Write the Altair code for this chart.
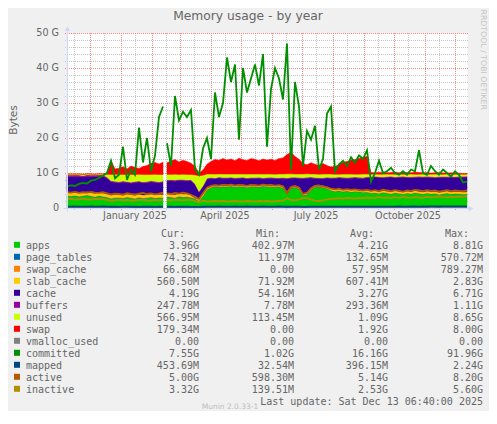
import altair as alt
import pandas as pd

# ---------------------------------------------------------------- data ----
START_DATE = "2024-11-08"          # first sample (left edge of the plot)
STEP = "4D"                        # one sample every 4 days
GAP_DATES = ["2025-02-14"]         # rrd gap (no data)

SERIES = ["apps", "page_tables", "swap_cache", "slab_cache", "cache", "buffers",
          "unused", "swap", "vmalloc_used", "committed", "mapped", "active", "inactive"]
COLORS = ["#00CC00", "#0066B3", "#FF8000", "#FFCC00", "#330099", "#990099",
          "#CCFF00", "#FF0000", "#808080", "#008F00", "#00487D", "#B35A00", "#B38F00"]
STACKED = SERIES[:8]
LINES = SERIES[8:]

# values in G (base 1024)
APPS = [3.4, 3.3, 3.5, 3.2, 3.4, 3.6, 3.3, 3.1, 3.4, 3.2,
        3.0, 2.6, 2.8, 2.9, 2.7, 3.0, 2.8, 2.6, 2.9, 2.7,
        2.8, 3.0, 2.7, 2.9, 2.8, 3.1, 3.0, 2.8, 3.2, 3.0,
        3.1, 2.9, 2.6, 2.0, 3.4, 5.2, 5.8, 6.0, 5.9, 6.1,
        6.0, 6.2, 5.9, 6.1, 6.0, 5.8, 6.1, 6.0, 5.9, 6.2,
        6.0, 6.1, 5.9, 6.0, 5.7, 4.0, 5.6, 5.8, 5.4, 3.6,
        3.8, 5.2, 5.9, 6.0, 5.8, 5.5, 5.0, 4.7, 4.9, 4.6,
        4.8, 4.5, 4.7, 4.6, 4.4, 4.5, 4.2, 4.3, 4.1, 4.4,
        4.2, 4.0, 4.3, 4.1, 3.9, 4.2, 4.0, 4.3, 4.1, 3.9,
        4.2, 4.0, 4.1, 3.8, 4.0, 4.2, 3.9, 4.1, 4.0, 3.9,
        3.96]
PAGE_TABLES = [0.16, 0.17, 0.15, 0.18, 0.16, 0.17, 0.19, 0.16, 0.18, 0.17,
               0.15, 0.14, 0.15, 0.13, 0.14, 0.15, 0.13, 0.14, 0.15, 0.14,
               0.13, 0.14, 0.15, 0.13, 0.14, 0.15, 0.14, 0.13, 0.15, 0.14,
               0.13, 0.14, 0.12, 0.10, 0.13, 0.12, 0.13, 0.12, 0.14, 0.13,
               0.12, 0.13, 0.12, 0.14, 0.13, 0.12, 0.13, 0.12, 0.13, 0.14,
               0.12, 0.13, 0.12, 0.13, 0.12, 0.11, 0.13, 0.12, 0.11, 0.10,
               0.11, 0.12, 0.13, 0.12, 0.13, 0.12, 0.11, 0.10, 0.11, 0.10,
               0.11, 0.10, 0.09, 0.10, 0.11, 0.10, 0.09, 0.10, 0.09, 0.10,
               0.11, 0.10, 0.09, 0.10, 0.09, 0.10, 0.11, 0.10, 0.09, 0.10,
               0.09, 0.10, 0.09, 0.08, 0.09, 0.10, 0.09, 0.08, 0.09, 0.08,
               0.074]
SWAP_CACHE = [0.02, 0.02, 0.01, 0.02, 0.02, 0.01, 0.02, 0.02, 0.01, 0.02,
              0.02, 0.09, 0.06, 0.05, 0.07, 0.06, 0.05, 0.06, 0.07, 0.05,
              0.06, 0.07, 0.08, 0.06, 0.07, 0.06, 0.07, 0.08, 0.06, 0.07,
              0.06, 0.07, 0.05, 0.03, 0.04, 0.05, 0.06, 0.07, 0.06, 0.07,
              0.06, 0.07, 0.06, 0.07, 0.06, 0.05, 0.07, 0.06, 0.05, 0.06,
              0.07, 0.06, 0.05, 0.07, 0.08, 0.10, 0.11, 0.09, 0.07, 0.06,
              0.05, 0.06, 0.05, 0.04, 0.05, 0.04, 0.04, 0.05, 0.06, 0.07,
              0.06, 0.07, 0.08, 0.07, 0.08, 0.09, 0.06, 0.05, 0.06, 0.05,
              0.06, 0.05, 0.06, 0.07, 0.05, 0.06, 0.05, 0.06, 0.07, 0.06,
              0.05, 0.06, 0.07, 0.06, 0.05, 0.06, 0.07, 0.06, 0.07, 0.06,
              0.067]
SLAB_CACHE = [0.95, 0.90, 1.00, 0.92, 0.88, 0.96, 0.90, 0.94, 0.98, 0.92,
              0.90, 0.86, 0.92, 0.88, 0.90, 0.85, 0.91, 0.87, 0.90, 0.86,
              0.88, 0.84, 0.90, 0.86, 0.89, 0.82, 0.80, 0.85, 0.78, 0.82,
              0.80, 0.76, 0.72, 0.60, 0.65, 0.50, 0.46, 0.44, 0.47, 0.45,
              0.46, 0.44, 0.47, 0.43, 0.45, 0.46, 0.44, 0.47, 0.45, 0.43,
              0.46, 0.44, 0.45, 0.47, 0.44, 0.52, 0.46, 0.44, 0.48, 0.55,
              0.56, 0.50, 0.46, 0.45, 0.47, 0.48, 0.50, 0.53, 0.52, 0.55,
              0.54, 0.56, 0.53, 0.55, 0.57, 0.54, 0.56, 0.58, 0.55, 0.57,
              0.55, 0.58, 0.56, 0.54, 0.57, 0.55, 0.58, 0.56, 0.54, 0.57,
              0.55, 0.57, 0.56, 0.58, 0.55, 0.57, 0.54, 0.56, 0.55, 0.57,
              0.56]
CACHE = [4.5, 4.6, 4.4, 4.7, 4.4, 4.3, 4.6, 4.8, 4.5, 4.7,
         4.4, 3.8, 3.4, 3.2, 3.6, 3.2, 3.2, 3.6, 3.4, 3.4,
         3.4, 3.4, 3.5, 3.2, 3.5, 3.6, 3.8, 3.8, 3.7, 3.8,
         3.6, 3.9, 3.2, 1.8, 1.9, 2.4, 2.0, 1.7, 2.0, 1.7,
         1.8, 1.7, 1.8, 1.7, 1.9, 1.9, 1.7, 1.8, 2.0, 1.5,
         1.8, 1.8, 1.9, 1.7, 2.1, 3.6, 2.2, 2.1, 2.4, 4.1,
         4.0, 2.7, 1.9, 1.8, 1.9, 2.4, 2.8, 3.1, 3.0, 3.2,
         2.9, 3.3, 3.2, 3.2, 3.3, 3.4, 3.8, 3.8, 3.9, 3.5,
         3.8, 4.1, 3.6, 3.9, 4.2, 3.8, 3.9, 3.7, 4.0, 4.1,
         3.9, 4.0, 3.8, 4.2, 4.1, 3.8, 4.2, 3.9, 4.1, 4.2,
         4.19]
BUFFERS = [0.40, 0.42, 0.38, 0.41, 0.39, 0.43, 0.40, 0.38, 0.41, 0.40,
           0.36, 0.30, 0.28, 0.31, 0.29, 0.30, 0.28, 0.32, 0.29, 0.30,
           0.28, 0.31, 0.29, 0.30, 0.28, 0.30, 0.29, 0.31, 0.28, 0.30,
           0.29, 0.31, 0.27, 0.20, 0.24, 0.26, 0.27, 0.25, 0.28, 0.26,
           0.27, 0.25, 0.26, 0.28, 0.26, 0.25, 0.27, 0.26, 0.28, 0.25,
           0.26, 0.27, 0.25, 0.26, 0.28, 0.24, 0.26, 0.27, 0.25, 0.23,
           0.24, 0.26, 0.27, 0.25, 0.26, 0.28, 0.26, 0.27, 0.25, 0.26,
           0.27, 0.25, 0.26, 0.24, 0.25, 0.27, 0.25, 0.26, 0.24, 0.25,
           0.26, 0.24, 0.25, 0.27, 0.25, 0.24, 0.26, 0.25, 0.24, 0.26,
           0.25, 0.24, 0.26, 0.25, 0.24, 0.25, 0.26, 0.24, 0.25, 0.24,
           0.248]
UNUSED = [0.30, 0.30, 0.25, 0.30, 0.35, 0.30, 0.30, 0.25, 0.30, 0.30,
          0.80, 1.80, 2.00, 2.10, 1.90, 2.00, 2.20, 2.00, 1.90, 2.10,
          2.00, 1.80, 2.00, 2.10, 1.90, 1.60, 1.50, 1.70, 1.40, 1.50,
          1.60, 1.50, 2.50, 4.50, 3.00, 1.20, 1.00, 1.10, 0.90, 1.00,
          1.00, 0.90, 1.10, 1.00, 0.90, 1.10, 1.00, 1.00, 0.90, 1.10,
          1.00, 0.90, 1.00, 1.10, 1.00, 1.20, 1.00, 0.90, 1.00, 1.10,
          1.00, 0.90, 1.00, 1.00, 1.10, 0.90, 1.00, 0.90, 0.80, 0.90,
          1.00, 0.90, 0.80, 0.90, 1.00, 0.80, 0.70, 0.60, 0.70, 0.80,
          0.70, 0.60, 0.80, 0.70, 0.60, 0.70, 0.80, 0.70, 0.60, 0.70,
          0.60, 0.70, 0.80, 0.70, 0.60, 0.70, 0.60, 0.70, 0.60, 0.60,
          0.567]
SWAP = [0.0, 0.0, 0.0, 0.0, 0.0, 0.0, 0.0, 0.0, 0.0, 0.0,
        0.4, 4.0, 1.5, 1.8, 2.2, 1.6, 2.4, 2.0, 1.7, 2.3,
        2.6, 3.2, 3.4, 3.0, 3.5, 3.3, 3.8, 4.2, 3.6, 4.0,
        3.7, 3.2, 2.5, 0.8, 1.5, 2.8, 3.6, 4.2, 3.9, 4.4,
        4.0, 4.3, 3.8, 4.5, 4.1, 3.9, 4.4, 4.2, 3.8, 4.3,
        4.0, 4.2, 3.9, 4.4, 4.6, 5.5, 6.2, 5.0, 4.2, 3.0,
        2.6, 3.2, 2.8, 2.5, 3.0, 2.4, 2.0, 2.2, 2.8, 3.4,
        3.6, 4.0, 4.2, 4.5, 4.8, 5.0, 0.5, 0.4, 0.6, 0.5,
        0.4, 0.5, 0.6, 0.4, 0.5, 0.5, 0.4, 0.6, 0.5, 0.4,
        0.5, 0.3, 0.4, 0.5, 0.4, 0.3, 0.4, 0.3, 0.3, 0.2,
        0.18]
VMALLOC_USED = [0.0, 0.0, 0.0, 0.0, 0.0, 0.0, 0.0, 0.0, 0.0, 0.0,
                0.0, 0.0, 0.0, 0.0, 0.0, 0.0, 0.0, 0.0, 0.0, 0.0,
                0.0, 0.0, 0.0, 0.0, 0.0, 0.0, 0.0, 0.0, 0.0, 0.0,
                0.0, 0.0, 0.0, 0.0, 0.0, 0.0, 0.0, 0.0, 0.0, 0.0,
                0.0, 0.0, 0.0, 0.0, 0.0, 0.0, 0.0, 0.0, 0.0, 0.0,
                0.0, 0.0, 0.0, 0.0, 0.0, 0.0, 0.0, 0.0, 0.0, 0.0,
                0.0, 0.0, 0.0, 0.0, 0.0, 0.0, 0.0, 0.0, 0.0, 0.0,
                0.0, 0.0, 0.0, 0.0, 0.0, 0.0, 0.0, 0.0, 0.0, 0.0,
                0.0, 0.0, 0.0, 0.0, 0.0, 0.0, 0.0, 0.0, 0.0, 0.0,
                0.0, 0.0, 0.0, 0.0, 0.0, 0.0, 0.0, 0.0, 0.0, 0.0,
                0.0]
COMMITTED = [6.0, 6.5, 6.3, 6.9, 7.2, 7.0, 7.8, 8.0, 8.6, 9.2,
             10.0, 13.5, 8.5, 9.5, 17.5, 8.0, 11.0, 9.5, 23.0, 13.0,
             20.0, 10.5, 15.0, 26.0, 29.0, 18.5, 12.0, 32.0, 25.0, 27.5,
             26.0, 28.0, 11.0, 9.5, 17.0, 20.0, 14.0, 33.0, 26.0, 30.0,
             43.0, 36.0, 41.0, 19.5, 40.0, 33.0, 37.0, 41.0, 35.0, 44.0,
             17.5, 34.0, 40.0, 37.0, 31.0, 47.0, 11.0, 36.0, 29.0, 12.0,
             22.0, 19.5, 23.5, 11.0, 14.0, 27.0, 29.0, 10.5, 12.5, 13.5,
             12.0, 14.5, 13.0, 15.0, 14.0, 16.5, 7.5, 10.0, 13.5, 10.0,
             10.5, 11.5, 10.0, 9.5, 10.5, 9.5, 11.0, 10.5, 16.5, 10.0,
             9.5, 12.0, 10.5, 9.5, 11.0, 10.0, 9.0, 10.5, 9.5, 7.3,
             7.55]
MAPPED = [0.42, 0.40, 0.43, 0.41, 0.39, 0.42, 0.44, 0.40, 0.41, 0.43,
          0.40, 0.36, 0.38, 0.35, 0.37, 0.39, 0.36, 0.38, 0.35, 0.37,
          0.36, 0.38, 0.35, 0.37, 0.36, 0.38, 0.36, 0.35, 0.37, 0.36,
          0.38, 0.35, 0.33, 0.30, 0.36, 0.40, 0.42, 0.41, 0.43, 0.40,
          0.42, 0.41, 0.43, 0.40, 0.42, 0.44, 0.41, 0.42, 0.40, 0.43,
          0.41, 0.42, 0.40, 0.43, 0.41, 0.36, 0.40, 0.42, 0.39, 0.35,
          0.36, 0.40, 0.42, 0.41, 0.40, 0.39, 0.38, 0.40, 0.39, 0.41,
          0.40, 0.39, 0.41, 0.40, 0.38, 0.40, 0.41, 0.39, 0.40, 0.42,
          0.41, 0.40, 0.42, 0.43, 0.41, 0.42, 0.44, 0.43, 0.42, 0.44,
          0.43, 0.45, 0.44, 0.43, 0.45, 0.44, 0.46, 0.45, 0.44, 0.46,
          0.45]
ACTIVE = [4.5, 4.4, 4.6, 4.3, 4.5, 4.4, 4.6, 4.4, 4.3, 4.5,
          4.2, 3.9, 4.1, 4.0, 3.8, 4.2, 4.0, 3.9, 4.1, 4.3,
          4.0, 4.2, 3.9, 4.1, 4.4, 4.2, 4.0, 4.3, 4.1, 4.4,
          4.2, 3.8, 3.0, 2.6, 4.2, 5.8, 6.3, 6.5, 6.4, 6.6,
          6.5, 6.7, 6.4, 6.6, 6.5, 6.3, 6.6, 6.5, 6.4, 6.7,
          6.5, 6.6, 6.4, 6.5, 6.2, 4.2, 6.0, 6.2, 5.8, 4.0,
          4.3, 5.6, 6.3, 6.4, 6.2, 5.9, 5.5, 5.3, 5.5, 5.2,
          5.4, 5.2, 5.3, 5.1, 5.0, 5.2, 4.9, 5.1, 4.8, 5.2,
          5.0, 4.8, 5.1, 4.9, 4.7, 5.0, 4.9, 5.2, 5.0, 4.8,
          5.1, 4.9, 5.0, 4.7, 4.9, 5.1, 4.8, 5.0, 4.9, 4.8,
          5.0]
INACTIVE = [2.5, 2.6, 2.4, 2.5, 2.7, 2.5, 2.4, 2.6, 2.5, 2.6,
            2.3, 2.1, 2.2, 2.4, 2.2, 2.3, 2.1, 2.2, 2.4, 2.3,
            2.2, 2.1, 2.3, 2.2, 2.4, 2.3, 2.2, 2.4, 2.3, 2.2,
            2.4, 2.3, 2.0, 1.6, 2.1, 1.8, 1.9, 2.0, 1.9, 2.0,
            1.8, 1.9, 2.0, 1.9, 1.8, 2.0, 1.9, 1.8, 2.0, 1.9,
            2.0, 1.8, 1.9, 2.0, 2.1, 2.8, 2.3, 2.2, 2.4, 2.9,
            2.8, 2.4, 2.1, 2.0, 2.2, 2.4, 2.6, 2.7, 2.8, 2.7,
            2.9, 2.8, 2.7, 2.9, 2.8, 3.0, 2.8, 2.9, 3.1, 2.9,
            3.0, 2.8, 3.1, 2.9, 3.2, 3.0, 2.9, 3.1, 3.0, 2.9,
            3.2, 3.0, 3.1, 3.3, 3.1, 3.0, 3.2, 3.1, 3.3, 3.2,
            3.32]

CUR = ["3.96G", "74.32M", "66.68M", "560.50M", "4.19G", "247.78M", "566.95M",
       "179.34M", "0.00", "7.55G", "453.69M", "5.00G", "3.32G"]
MIN = ["402.97M", "11.97M", "0.00", "71.92M", "54.16M", "7.78M", "113.45M",
       "0.00", "0.00", "1.02G", "32.54M", "598.30M", "139.51M"]
AVG = ["4.21G", "132.65M", "57.95M", "607.41M", "3.27G", "293.36M", "1.09G",
       "1.92G", "0.00", "16.16G", "396.15M", "5.14G", "2.53G"]
MAX = ["8.81G", "570.72M", "789.27M", "2.83G", "6.71G", "1.11G", "8.65G",
       "8.00G", "0.00", "91.96G", "2.24G", "8.20G", "5.60G"]
HEADERS = ["Cur:", "Min:", "Avg:", "Max:"]

TITLE = "Memory usage - by year"
Y_TITLE = "Bytes"
SIDE_TEXT = "RRDTOOL / TOBI OETIKER"
LAST_UPDATE = "Last update: Sat Dec 13 06:40:00 2025"
FOOTER = "Munin 2.0.33-1"

Y_TICKS = [0, 10, 20, 30, 40, 50]
Y_TICK_LABELS = ["0", "10 G", "20 G", "30 G", "40 G", "50 G"]
Y_MINOR = [2, 4, 6, 8, 12, 14, 16, 18, 22, 24, 26, 28, 32, 34, 36, 38, 42, 44, 46, 48]
X_LABEL_DATES = ["2025-01-15", "2025-04-15", "2025-07-15", "2025-10-15"]
X_LABELS = ["January 2025", "April 2025", "July 2025", "October 2025"]
MONTH_STARTS = ["2024-12-01", "2025-01-01", "2025-02-01", "2025-03-01", "2025-04-01",
                "2025-05-01", "2025-06-01", "2025-07-01", "2025-08-01", "2025-09-01",
                "2025-10-01", "2025-11-01", "2025-12-01"]
MID_MONTHS = ["2024-11-15", "2024-12-15", "2025-01-15", "2025-02-15", "2025-03-15",
              "2025-04-15", "2025-05-15", "2025-06-15", "2025-07-15", "2025-08-15",
              "2025-09-15", "2025-10-15", "2025-11-15"]

# ------------------------------------------------------------ tables ------
values = {"apps": APPS, "page_tables": PAGE_TABLES, "swap_cache": SWAP_CACHE,
          "slab_cache": SLAB_CACHE, "cache": CACHE, "buffers": BUFFERS,
          "unused": UNUSED, "swap": SWAP, "vmalloc_used": VMALLOC_USED,
          "committed": COMMITTED, "mapped": MAPPED, "active": ACTIVE,
          "inactive": INACTIVE}
dates = pd.date_range(START_DATE, periods=len(APPS), freq=STEP)
wide = pd.DataFrame(values, index=dates)
gap = pd.DataFrame(float("nan"), index=pd.to_datetime(GAP_DATES), columns=wide.columns)
wide = pd.concat([wide, gap]).sort_index()
date_str = wide.index.strftime("%Y-%m-%d")

top = wide[STACKED].cumsum(axis=1, skipna=False)
bottom = top - wide[STACKED]
area_df = pd.concat([pd.DataFrame({"date": date_str, "series": s,
                                   "y0": bottom[s].values, "y1": top[s].values})
                     for s in STACKED], ignore_index=True)
line_df = pd.concat([pd.DataFrame({"date": date_str, "series": s, "value": wide[s].values})
                     for s in LINES], ignore_index=True)


def fmt(s):
    return s if s[-1].isalpha() else s + "\u00a0"


legend_df = pd.DataFrame({"series": SERIES, "row": list(range(len(SERIES))),
                          "cur": [fmt(s) for s in CUR], "min": [fmt(s) for s in MIN],
                          "avg": [fmt(s) for s in AVG], "max": [fmt(s) for s in MAX]})

# ------------------------------------------------------------- styles -----
W, H = 400, 175
BG = "#F0F0F0"
FONT = "DejaVu Sans"
MONO = "DejaVu Sans Mono"
TXT = "#666666"
AXIS_C = "#CFD6F8"

x_scale = alt.Scale(type="utc",
                    domain=[alt.DateTime(year=2024, month=11, date=8, utc=True),
                            alt.DateTime(year=2025, month=12, date=13, utc=True)])
y_scale = alt.Scale(domain=[0, 50], nice=False, zero=True)
color_scale = alt.Scale(domain=SERIES, range=COLORS)

layers = []

# grid
layers.append(alt.Chart(pd.DataFrame({"v": Y_MINOR})).mark_rule(
    color="#c6c6c6", strokeDash=[1, 1], strokeWidth=1, yOffset=0.5).encode(
    y=alt.Y("v:Q", scale=y_scale, axis=None), x=alt.value(-2), x2=alt.value(W + 2)))
layers.append(alt.Chart(pd.DataFrame({"d": MID_MONTHS})).mark_rule(
    color="#c6c6c6", strokeDash=[1, 1], strokeWidth=1, xOffset=0.5).encode(
    x=alt.X("d:T", scale=x_scale, axis=None), y=alt.value(0), y2=alt.value(H + 2)))
layers.append(alt.Chart(pd.DataFrame({"v": Y_TICKS[1:]})).mark_rule(
    color="#f08a8a", strokeDash=[1, 1], strokeWidth=1, yOffset=0.5).encode(
    y=alt.Y("v:Q", scale=y_scale, axis=None), x=alt.value(-2), x2=alt.value(W + 2)))
layers.append(alt.Chart(pd.DataFrame({"d": MONTH_STARTS})).mark_rule(
    color="#f08a8a", strokeDash=[1, 1], strokeWidth=1, xOffset=0.5).encode(
    x=alt.X("d:T", scale=x_scale, axis=None), y=alt.value(0), y2=alt.value(H + 2)))

# stacked areas
layers.append(alt.Chart(area_df).mark_area(interpolate="linear", strokeWidth=0.5, opacity=1).encode(
    x=alt.X("date:T", scale=x_scale, axis=None),
    y=alt.Y("y1:Q", scale=y_scale, axis=None, stack=None),
    y2="y0:Q",
    color=alt.Color("series:N", scale=color_scale, legend=None),
    stroke=alt.Stroke("series:N", scale=color_scale, legend=None),
    detail="series:N"))

# lines
for s in LINES:
    layers.append(alt.Chart(line_df).transform_filter(alt.datum.series == s).mark_line(
        color=COLORS[SERIES.index(s)], strokeWidth=1.8, clip=True).encode(
        x=alt.X("date:T", scale=x_scale, axis=None),
        y=alt.Y("value:Q", scale=y_scale, axis=None)))

# tick labels, placed through the scales
layers.append(alt.Chart(pd.DataFrame({"v": Y_TICKS, "lab": Y_TICK_LABELS})).mark_text(
    font=FONT, fontSize=9.6, color=TXT, align="right", baseline="middle").encode(
    y=alt.Y("v:Q", scale=y_scale, axis=None), x=alt.value(-8), text="lab:N"))
layers.append(alt.Chart(pd.DataFrame({"d": X_LABEL_DATES, "lab": X_LABELS})).mark_text(
    font=FONT, fontSize=9.6, color=TXT, align="center", baseline="alphabetic").encode(
    x=alt.X("d:T", scale=x_scale, axis=None), y=alt.value(H + 10.8), text="lab:N"))

# axis lines and arrows
one = pd.DataFrame({"a": [0]})
layers.append(alt.Chart(one).mark_rule(color=AXIS_C, strokeWidth=1, xOffset=0.5).encode(
    x=alt.value(0), y=alt.value(-3), y2=alt.value(H + 3.5)))
layers.append(alt.Chart(one).mark_rule(color=AXIS_C, strokeWidth=1, yOffset=0.5).encode(
    y=alt.value(H), x=alt.value(-3.5), x2=alt.value(W + 2)))
layers.append(alt.Chart(one).mark_point(shape="triangle-up", filled=True, size=30,
                                        color=AXIS_C, opacity=1).encode(
    x=alt.value(0.5), y=alt.value(-4.5)))
layers.append(alt.Chart(one).mark_point(shape="triangle-right", filled=True, size=30,
                                        color=AXIS_C, opacity=1).encode(
    x=alt.value(W + 4), y=alt.value(H + 0.5)))

# texts around the plot


def text_layer(t, x, y, **kw):
    return alt.Chart(pd.DataFrame({"t": [t]})).mark_text(**kw).encode(
        text="t:N", x=alt.value(x), y=alt.value(y))


layers.append(text_layer(TITLE, 181, -13.5, font=FONT, fontSize=12.3, color=TXT,
                         align="center", baseline="alphabetic"))
layers.append(text_layer(Y_TITLE, -53, 87, font=FONT, fontSize=10.6, color=TXT,
                         align="center", baseline="middle", angle=270))
layers.append(text_layer(SIDE_TEXT, 416, -23.5, font=FONT, fontSize=7.8, color="#c4c4c4",
                         align="left", baseline="middle", angle=90))

# legend
ROW0 = 216
legend = alt.Chart(legend_df).transform_calculate(py=f"{ROW0} + 12 * datum.row")
layers.append(legend.transform_calculate(sy="datum.py - 4.2").mark_square(size=36, opacity=1).encode(
    x=alt.value(-50), y=alt.Y("sy:Q", scale=None, axis=None),
    color=alt.Color("series:N", scale=color_scale, legend=None)))
layers.append(legend.mark_text(font=MONO, fontSize=10, color=TXT, align="left",
                               baseline="alphabetic").encode(
    x=alt.value(-41), y=alt.Y("py:Q", scale=None, axis=None), text="series:N"))
COL_X = [132, 227, 321, 416]
for field, cx, head in zip(["cur", "min", "avg", "max"], COL_X, HEADERS):
    layers.append(legend.mark_text(font=MONO, fontSize=10, color=TXT, align="right",
                                   baseline="alphabetic").encode(
        x=alt.value(cx), y=alt.Y("py:Q", scale=None, axis=None), text=f"{field}:N"))
    layers.append(text_layer(head, cx - 14, ROW0 - 12, font=MONO, fontSize=10, color=TXT,
                             align="right", baseline="alphabetic"))
layers.append(text_layer(LAST_UPDATE, 416, ROW0 + 12 * 13, font=MONO, fontSize=10, color=TXT,
                         align="right", baseline="alphabetic"))
layers.append(text_layer(FOOTER, 163, ROW0 + 12 * 13 + 4, font=FONT, fontSize=7.5,
                         color="#bdbdbd", align="center", baseline="alphabetic"))

chart = alt.layer(*layers).properties(
    width=W, height=H, background=BG,
    padding={"left": 59, "top": 25, "right": 22, "bottom": 203},
    autosize=alt.AutoSizeParams(type="none"),
).configure_view(fill="white", stroke="transparent")

chart.save("out.html", embed_options={"renderer": "svg", "actions": False})
